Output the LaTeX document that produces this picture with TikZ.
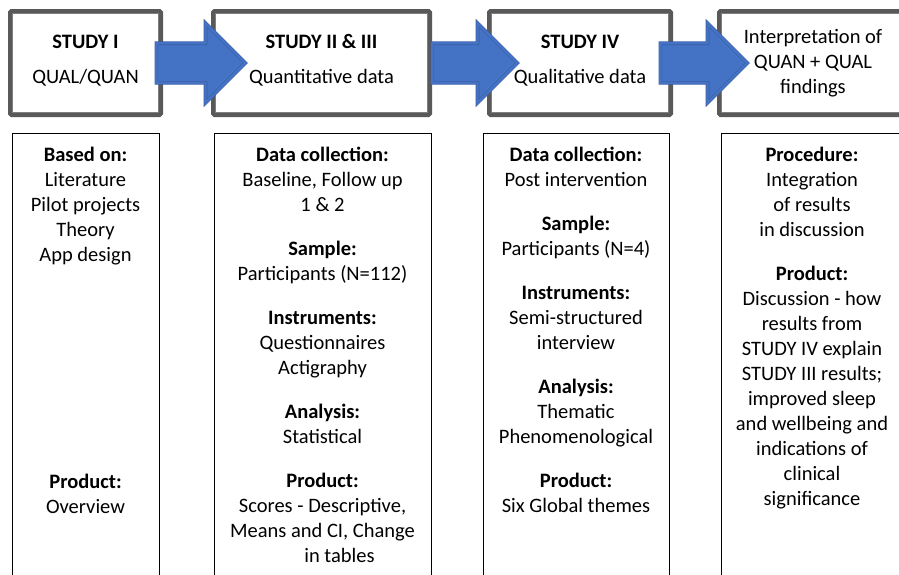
\documentclass[tikz,border=0pt]{standalone}
\usepackage{fontspec}
\setmainfont{Carlito}
\usepackage{tikz}
\usetikzlibrary{shapes.arrows}
\definecolor{boxgray}{HTML}{595959}
\definecolor{linegray}{HTML}{7F7F7F}
\definecolor{arrowblue}{HTML}{4472C4}
\definecolor{arrowedge}{HTML}{3A5EA6}
\tikzset{studybox/.style={draw=boxgray, line width=4pt, rounded corners=1.5pt,
  fill=white, inner sep=0pt}}
\tikzset{studyline/.style={draw=linegray, line width=1.2pt}}
\tikzset{colbox/.style={draw=black, line width=1pt, inner sep=0pt}}
\tikzset{bigarrow/.style={single arrow, single arrow head extend=20pt,
  single arrow tip angle=90, inner sep=0pt,
  fill=arrowblue, draw=arrowedge, double=arrowblue, double distance=2.4pt,
  line width=0.6pt}}
\tikzset{txt/.style={align=center, anchor=north, inner sep=0pt,
  font=\fontsize{20.5}{25}\selectfont}}

\begin{document}
\begin{tikzpicture}[x=1pt, y=-1pt]
\useasboundingbox (0,0) rectangle (899,574);
\clip (0,0) rectangle (899,574);

% top row
\node[studybox, minimum width=151pt, minimum height=104pt] (s1) at (85.5,63) {};
\node[studybox, minimum width=217pt, minimum height=104pt] (s2) at (321.5,63) {};
\node[studybox, minimum width=182pt, minimum height=104pt] (s3) at (580,63) {};
\node[studybox, minimum width=188pt, minimum height=104pt] (s4) at (813,63) {};
\foreach \b in {s1,s2,s3,s4}
  \draw[studyline] ([shift={(4.3,4.3)}]\b.north west) rectangle ([shift={(-4.3,-4.3)}]\b.south east);

% columns
\node[colbox, minimum width=147pt, minimum height=457pt] (c1) at (85.5,361.5) {};
\node[colbox, minimum width=217pt, minimum height=457pt] (c2) at (322.5,361.5) {};
\node[colbox, minimum width=186pt, minimum height=457pt] (c3) at (576,361.5) {};
\node[colbox, minimum width=183pt, minimum height=457pt] (c4) at (812.5,361.5) {};

% arrows
\node[bigarrow, anchor=west, minimum height=89pt] (a1) at ([xshift=-7pt]s1.east) {\rule{0pt}{39pt}};
\node[bigarrow, anchor=west, minimum height=85pt] (a2) at ([xshift=-0pt]s2.east) {\rule{0pt}{39pt}};
\node[bigarrow, anchor=west, minimum height=87pt] (a3) at ([xshift=-13pt]s3.east) {\rule{0pt}{39pt}};

% texts
\node[txt] (s1t) at (85.5,31) {\strut\textbf{STUDY I}\\[10pt]QUAL/QUAN};
\node[txt] (s2t) at (321.5,31) {\strut\textbf{STUDY II \& III}\\[10pt]Quantitative data};
\node[txt] (s3t) at (580,31) {\strut\textbf{STUDY IV}\\[10pt]Qualitative data};
\node[txt] (s4t) at (813,26) {\strut Interpretation of\\QUAN + QUAL\\findings};

\node[txt] (c1t) at (85.5,144) {\strut\textbf{Based on:}\\Literature\\Pilot projects\\Theory\\App design\\[202pt]
  \textbf{Product:}\\Overview};
\node[txt] (c2t) at (322.5,144) {\strut\textbf{Data collection:}\\Baseline, Follow up\\1 \& 2\\[19pt]
  \textbf{Sample:}\\Participants (N=112)\\[19pt]
  \textbf{Instruments:}\\Questionnaires\\Actigraphy\\[19pt]
  \textbf{Analysis:}\\Statistical\\[19pt]
  \textbf{Product:}\\Scores - Descriptive,\\Means and CI, Change\\\hspace*{34pt}in tables};
\node[txt] (c3t) at (576,144) {\strut\textbf{Data collection:}\\Post intervention\\[19pt]
  \textbf{Sample:}\\Participants (N=4)\\[19pt]
  \textbf{Instruments:}\\Semi-structured\\interview\\[19pt]
  \textbf{Analysis:}\\Thematic\hspace*{10pt}\\Phenomenological\\[19pt]
  \textbf{Product:}\\Six Global themes};
\node[txt] (c4t) at (812,144) {\strut\textbf{Procedure:}\\Integration\\of results\\in discussion\\[19pt]
  \textbf{Product:}\\Discussion - how\\results from\\STUDY IV explain\\STUDY III results;\\improved sleep\\and wellbeing and\\indications of\\clinical\\significance};
\end{tikzpicture}
\end{document}
